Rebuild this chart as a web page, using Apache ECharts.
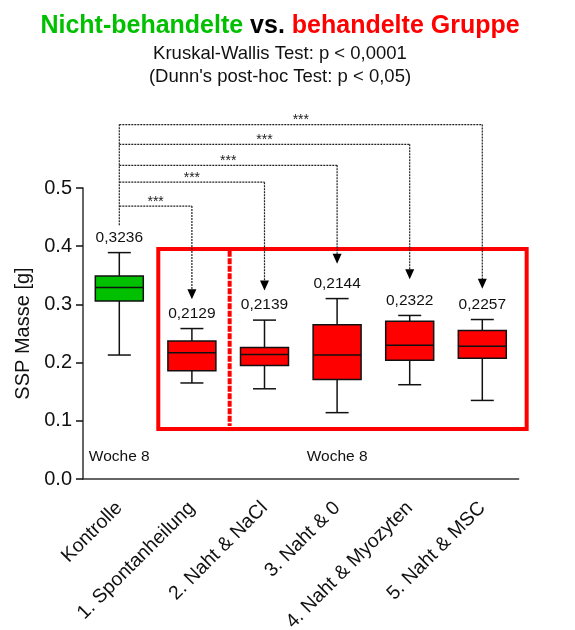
<!DOCTYPE html>
<html><head><meta charset="utf-8">
<script src="https://cdn.jsdelivr.net/npm/echarts@6/dist/echarts.min.js"></script>
<style>html,body{margin:0;padding:0;background:#fff}#c{width:575px;height:630px}</style>
</head><body><div id="c"></div>
<script>
// ---- data ----
const categories = ['Kontrolle', '1. Spontanheilung', '2. Naht & NaCl', '3. Naht & 0', '4. Naht & Myozyten', '5. Naht & MSC'];
const whiskerLow  = [0.213, 0.165, 0.155, 0.114, 0.162, 0.135];
const q1          = [0.306, 0.186, 0.195, 0.171, 0.204, 0.2075];
const median      = [0.329, 0.217, 0.214, 0.213, 0.230, 0.228];
const q3          = [0.349, 0.237, 0.226, 0.265, 0.271, 0.255];
const whiskerHigh = [0.389, 0.2585, 0.273, 0.310, 0.281, 0.274];
const means       = [0.3236, 0.2129, 0.2139, 0.2144, 0.2322, 0.2257];
const yTicks      = [0.0, 0.1, 0.2, 0.3, 0.4, 0.5];
// comparisons: Kontrolle vs target group
const compTarget  = [1, 2, 3, 4, 5];
const compLevel   = [0.469, 0.510, 0.539, 0.575, 0.609];
const compArrowTip= [0.309, 0.324, 0.370, 0.343, 0.327];
const compLabel   = ['***', '***', '***', '***', '***'];
const stemBottom  = 0.436;
const weekLabels  = [[0, 'Woche 8'], [3, 'Woche 8']];

const FONT = "'Liberation Sans', Arial, Helvetica, sans-serif";
const GREEN = '#00c000', RED = '#ff0000', INK = '#111';

function fmtComma(v) { return v.toFixed(4).replace('.', ','); }

const chart = echarts.init(document.getElementById('c'), null, { renderer: 'canvas' });

const boxData = categories.map((c, i) => [i, whiskerLow[i], q1[i], median[i], q3[i], whiskerHigh[i], means[i]]);
const compData = compTarget.map((t, i) => [t, compLevel[i], compArrowTip[i], i]);

const option = {
  animation: false,
  backgroundColor: '#fff',
  title: {
    left: 275, top: 9, textAlign: 'center',
    text: '{g|Nicht-behandelte} {k|vs.} {r|behandelte Gruppe}',
    textStyle: {
      fontSize: 25, fontWeight: 'bold', fontFamily: FONT, color: '#000',
      rich: {
        g: { color: GREEN, fontSize: 25, fontWeight: 'bold', fontFamily: FONT },
        k: { color: '#000', fontSize: 25, fontWeight: 'bold', fontFamily: FONT },
        r: { color: RED, fontSize: 25, fontWeight: 'bold', fontFamily: FONT }
      }
    },
    subtext: "Kruskal-Wallis Test: p < 0,0001\n(Dunn's post-hoc Test: p < 0,05)",
    subtextStyle: { fontSize: 18.5, color: INK, lineHeight: 23, fontFamily: FONT },
    itemGap: 3
  },
  grid: { left: 83, right: 56.4, top: 188, bottom: 151, containLabel: false, outerBoundsMode: 'none' },
  xAxis: [
    {
      type: 'category', data: categories,
      axisLine: { onZero: false, lineStyle: { color: '#333', width: 1.5 } },
      axisTick: { alignWithLabel: true, length: 7, lineStyle: { color: INK, width: 1.5 } },
      axisLabel: { rotate: 45, interval: 0, fontSize: 19.5, color: INK, fontFamily: FONT, margin: 26 },
      splitLine: { show: false }
    },
    { type: 'value', min: -0.5, max: 5.5, show: false }
  ],
  yAxis: {
    type: 'value', min: 0, max: 0.5, interval: 0.1,
    name: 'SSP Masse [g]', nameLocation: 'middle', nameGap: 50,
    nameTextStyle: { fontSize: 20, color: INK, fontFamily: FONT },
    axisLine: { show: true, onZero: false, lineStyle: { color: '#333', width: 1.5 } },
    axisTick: { show: true, length: 7, lineStyle: { color: INK, width: 1.5 } },
    axisLabel: { formatter: v => v.toFixed(1), fontSize: 20, color: INK, fontFamily: FONT, margin: 11 },
    splitLine: { show: false }
  },
  series: [
    // red frame around treated groups
    {
      type: 'custom', xAxisIndex: 1, yAxisIndex: 0, clip: false, silent: true,
      data: [[0]],
      renderItem: function (params, api) {
        const p0 = api.coord([0.537, 0.3954]);
        const p1 = api.coord([5.611, 0.0858]);
        const d0 = api.coord([1.52, 0.392]);
        const d1 = api.coord([1.52, 0.091]);
        return {
          type: 'group', children: [
            { type: 'rect', shape: { x: p0[0], y: p0[1], width: p1[0] - p0[0], height: p1[1] - p0[1] },
              style: { fill: null, stroke: RED, lineWidth: 4 } },
            { type: 'line', shape: { x1: d0[0], y1: d0[1], x2: d1[0], y2: d1[1] },
              style: { stroke: RED, lineWidth: 4, lineDash: [6, 1.5] } }
          ]
        };
      }
    },
    // box plots
    {
      type: 'custom', xAxisIndex: 0, yAxisIndex: 0, clip: false,
      data: boxData,
      encode: { x: 0, y: [1, 2, 3, 4, 5] },
      renderItem: function (params, api) {
        const i = api.value(0);
        const band = api.size([1, 0])[0];
        const bw = band * 0.661, cw = band * 0.317;
        const lo = api.coord([i, api.value(1)]);
        const b1 = api.coord([i, api.value(2)]);
        const md = api.coord([i, api.value(3)]);
        const b3 = api.coord([i, api.value(4)]);
        const hi = api.coord([i, api.value(5)]);
        const x = lo[0];
        const fill = i === 0 ? GREEN : RED;
        const ls = { stroke: INK, lineWidth: 1.5 };
        return {
          type: 'group', children: [
            { type: 'line', shape: { x1: x, y1: hi[1], x2: x, y2: b3[1] }, style: ls },
            { type: 'line', shape: { x1: x, y1: b1[1], x2: x, y2: lo[1] }, style: ls },
            { type: 'line', shape: { x1: x - cw / 2, y1: hi[1], x2: x + cw / 2, y2: hi[1] }, style: ls },
            { type: 'line', shape: { x1: x - cw / 2, y1: lo[1], x2: x + cw / 2, y2: lo[1] }, style: ls },
            { type: 'rect', shape: { x: x - bw / 2, y: b3[1], width: bw, height: b1[1] - b3[1] },
              style: { fill: fill, stroke: INK, lineWidth: 1.5 } },
            { type: 'line', shape: { x1: x - bw / 2, y1: md[1], x2: x + bw / 2, y2: md[1] }, style: ls },
            { type: 'text', x: x, y: hi[1] - 15,
              style: { text: fmtComma(api.value(6)), fontSize: 15.5, fontFamily: FONT, fill: INK, align: 'center', verticalAlign: 'middle' } }
          ]
        };
      }
    },
    // stem of the comparison brackets
    {
      type: 'custom', xAxisIndex: 1, yAxisIndex: 0, clip: false, silent: true,
      data: [[0, stemBottom, Math.max.apply(null, compLevel)]],
      renderItem: function (params, api) {
        const a = api.coord([api.value(0), api.value(1)]);
        const b = api.coord([api.value(0), api.value(2)]);
        return { type: 'line', shape: { x1: a[0], y1: a[1], x2: b[0], y2: b[1] },
          style: { stroke: '#222', lineWidth: 1.2, lineDash: [2, 1] } };
      }
    },
    // comparison brackets with arrows
    {
      type: 'custom', xAxisIndex: 1, yAxisIndex: 0, clip: false, silent: true,
      data: compData,
      renderItem: function (params, api) {
        const t = api.value(0);
        const s = api.coord([0, api.value(1)]);
        const e = api.coord([t, api.value(1)]);
        const tip = api.coord([t, api.value(2)]);
        const ah = 10, aw = 9;
        const dl = { stroke: '#222', lineWidth: 1.2, lineDash: [2, 1] };
        return {
          type: 'group', children: [
            { type: 'line', shape: { x1: s[0], y1: s[1], x2: e[0], y2: e[1] }, style: dl },
            { type: 'line', shape: { x1: e[0], y1: e[1], x2: e[0], y2: tip[1] - ah + 1 }, style: dl },
            { type: 'polygon', shape: { points: [[tip[0], tip[1]], [tip[0] - aw / 2, tip[1] - ah], [tip[0] + aw / 2, tip[1] - ah]] },
              style: { fill: '#000' } },
            { type: 'text', x: (s[0] + e[0]) / 2, y: s[1] - 4,
              style: { text: compLabel[api.value(3)], fontSize: 14, fontFamily: FONT, fill: '#222', align: 'center', verticalAlign: 'middle' } }
          ]
        };
      }
    },
    // "Woche 8" labels
    {
      type: 'custom', xAxisIndex: 0, yAxisIndex: 0, clip: false, silent: true,
      data: weekLabels.map(w => [w[0], 0.038]),
      renderItem: function (params, api) {
        const p = api.coord([api.value(0), api.value(1)]);
        return { type: 'text', x: p[0], y: p[1],
          style: { text: weekLabels[params.dataIndex][1], fontSize: 15.5, fontFamily: FONT, fill: INK, align: 'center', verticalAlign: 'middle' } };
      }
    }
  ]
};
chart.setOption(option);
</script>
</body></html>
